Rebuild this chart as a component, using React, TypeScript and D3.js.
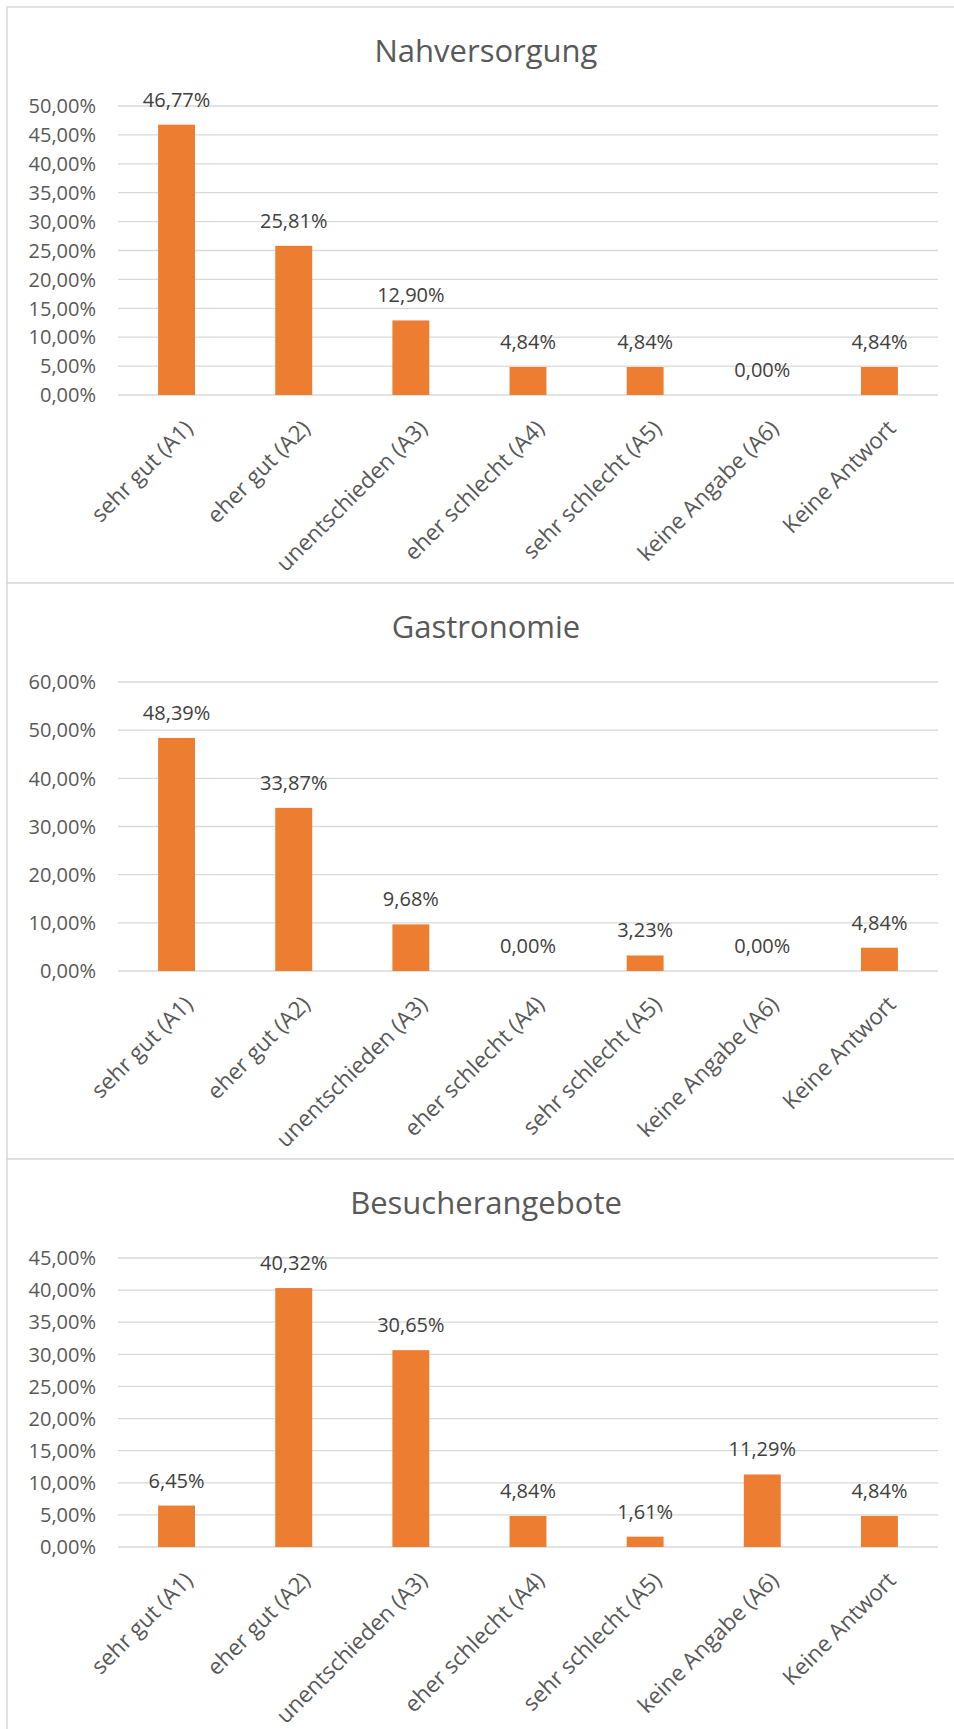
import React, { useEffect, useRef } from "react";
import * as d3 from "d3";

const categories = [
  "sehr gut (A1)",
  "eher gut (A2)",
  "unentschieden (A3)",
  "eher schlecht (A4)",
  "sehr schlecht (A5)",
  "keine Angabe (A6)",
  "Keine Antwort",
];

const titles = ["Nahversorgung", "Gastronomie", "Besucherangebote"];

const nahversorgung = [46.77, 25.81, 12.9, 4.84, 4.84, 0, 4.84];
const gastronomie = [48.39, 33.87, 9.68, 0, 3.23, 0, 4.84];
const besucherangebote = [6.45, 40.32, 30.65, 4.84, 1.61, 11.29, 4.84];

const yTicks1 = [0, 5, 10, 15, 20, 25, 30, 35, 40, 45, 50];
const yTicks2 = [0, 10, 20, 30, 40, 50, 60];
const yTicks3 = [0, 5, 10, 15, 20, 25, 30, 35, 40, 45];

const FONT = "'Open Sans', 'Noto Sans', sans-serif";
const pct = (v) => d3.format(".2f")(v).replace(".", ",") + "%";

const panels = [
  { title: titles[0], values: nahversorgung, ticks: yTicks1 },
  { title: titles[1], values: gastronomie, ticks: yTicks2 },
  { title: titles[2], values: besucherangebote, ticks: yTicks3 },
];

const App = () => {
  const svgRef = useRef(null);

  useEffect(() => {
    const svg = d3.select(svgRef.current);
    svg.selectAll("*").remove();

    const panelH = 576;
    const left = 118;
    const right = 938;

    panels.forEach((p, i) => {
      const top = 7 + i * panelH;
      const g = svg.append("g").attr("transform", `translate(0,${top})`);

      g.append("rect")
        .attr("x", 7)
        .attr("y", 0)
        .attr("width", 1000)
        .attr("height", panelH)
        .attr("fill", "white")
        .attr("stroke", "#d9d9d9")
        .attr("stroke-width", 1.5);

      g.append("text")
        .attr("x", 486)
        .attr("y", 55)
        .attr("text-anchor", "middle")
        .attr("fill", "#595959")
        .style("font-family", FONT)
        .style("font-size", "31px")
        .text(p.title);

      // excel-like gap width: bar ~ 31% of the category step
      const x = d3
        .scaleBand()
        .domain(categories)
        .range([left, right])
        .paddingInner(0.685)
        .paddingOuter(0.3425);
      const y = d3
        .scaleLinear()
        .domain([0, d3.max(p.ticks)])
        .range([388, 99]);

      g.selectAll(".grid")
        .data(p.ticks)
        .join("line")
        .attr("x1", left)
        .attr("x2", right)
        .attr("y1", (d) => y(d))
        .attr("y2", (d) => y(d))
        .attr("stroke", "#d9d9d9")
        .attr("stroke-width", 1.3);

      g.selectAll(".ytick")
        .data(p.ticks)
        .join("text")
        .attr("x", 96)
        .attr("y", (d) => y(d))
        .attr("dy", "0.36em")
        .attr("text-anchor", "end")
        .attr("fill", "#595959")
        .style("font-family", FONT)
        .style("font-size", "20px")
        .text((d) => pct(d));

      const rows = categories.map((c, j) => ({ c, v: p.values[j] }));

      g.selectAll(".bar")
        .data(rows)
        .join("rect")
        .attr("x", (d) => x(d.c))
        .attr("width", x.bandwidth())
        .attr("y", (d) => y(d.v))
        .attr("height", (d) => y(0) - y(d.v))
        .attr("fill", "#ed7d31");

      g.selectAll(".label")
        .data(rows)
        .join("text")
        .attr("x", (d) => x(d.c) + x.bandwidth() / 2)
        .attr("y", (d) => y(d.v) - 18)
        .attr("text-anchor", "middle")
        .attr("fill", "#404040")
        .style("font-family", FONT)
        .style("font-size", "20px")
        .text((d) => pct(d.v));

      g.selectAll(".cat")
        .data(categories)
        .join("text")
        .attr(
          "transform",
          (d) => `translate(${x(d) + x.bandwidth() / 2 + 12},${y(0) + 29}) rotate(-45)`
        )
        .attr("text-anchor", "end")
        .attr("dy", "0.36em")
        .attr("fill", "#595959")
        .style("font-family", FONT)
        .style("font-size", "22.5px")
        .text((d) => d);
    });
  }, []);

  return (
    <svg
      ref={svgRef}
      width={954}
      height={1729}
      style={{ position: "absolute", left: 0, top: 0, background: "white" }}
    />
  );
};

export default App;
